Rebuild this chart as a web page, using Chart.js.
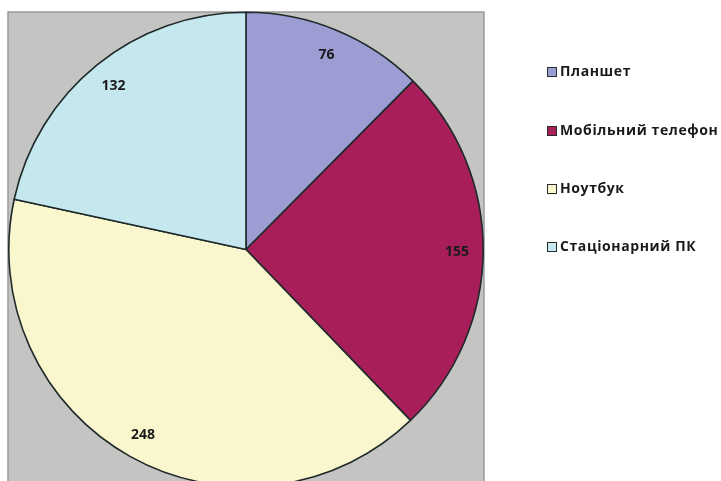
<!DOCTYPE html>
<html>
<head>
<meta charset="utf-8">
<script src="https://cdn.jsdelivr.net/npm/chart.js@4"></script>
<style>
html,body{margin:0;padding:0;background:#fff;overflow:hidden;width:721px;height:481px;}
canvas{display:block;}
</style>
</head>
<body>
<canvas id="c" width="721" height="490" style="width:721px;height:490px"></canvas>
<script>
const categories = ["Планшет", "Мобільний телефон", "Ноутбук", "Стаціонарний ПК"];
const values = [76, 155, 248, 132];
const colors = ["#9c9dd3", "#a71e5b", "#faf7cf", "#c5e7ee"];

const plotBg = {
  id: 'plotBg',
  beforeDraw(chart) {
    const ctx = chart.ctx;
    ctx.save();
    ctx.fillStyle = '#c4c4c2';
    ctx.fillRect(8, 12, 476, 480);
    ctx.strokeStyle = '#9a9a9a';
    ctx.lineWidth = 1.5;
    ctx.strokeRect(8, 12, 476, 480);
    ctx.restore();
  }
};

const sliceLabels = {
  id: 'sliceLabels',
  afterDatasetsDraw(chart) {
    const ctx = chart.ctx;
    const meta = chart.getDatasetMeta(0);
    ctx.save();
    ctx.font = 'bold 14px "Open Sans"';
    ctx.fillStyle = '#1a1a1a';
    ctx.textAlign = 'center';
    ctx.textBaseline = 'middle';
    meta.data.forEach((arc, i) => {
      const p = arc.getProps(['x','y','startAngle','endAngle','outerRadius'], true);
      const mid = (p.startAngle + p.endAngle) / 2;
      const r = p.outerRadius * 0.89;
      ctx.fillText(String(values[i]), p.x + Math.cos(mid) * r, p.y + Math.sin(mid) * r + 1);
    });
    ctx.restore();
  }
};

const sideLegend = {
  id: 'sideLegend',
  afterDraw(chart) {
    const ctx = chart.ctx;
    const ys = [72, 131, 189, 247];
    ctx.save();
    ctx.font = 'bold 14px "Open Sans"';
    try { ctx.letterSpacing = '0.6px'; } catch (e) {}
    ctx.textBaseline = 'middle';
    ctx.textAlign = 'left';
    categories.forEach((name, i) => {
      const y = ys[i];
      ctx.fillStyle = colors[i];
      ctx.fillRect(547.5, y - 4.5, 9, 9);
      ctx.strokeStyle = '#2a2a2a';
      ctx.lineWidth = 1;
      ctx.strokeRect(547.5, y - 4.5, 9, 9);
      ctx.fillStyle = '#1a1a1a';
      ctx.fillText(name, 560, y);
    });
    ctx.restore();
  }
};

new Chart(document.getElementById('c'), {
  type: 'pie',
  data: {
    labels: categories,
    datasets: [{
      data: values,
      backgroundColor: colors,
      borderColor: '#1e2a2a',
      borderWidth: 1.6
    }]
  },
  options: {
    responsive: false,
    animation: false,
    devicePixelRatio: 1,
    layout: { padding: { left: 8, top: 11, right: 237, bottom: 2 } },
    plugins: { legend: { display: false }, tooltip: { enabled: false } }
  },
  plugins: [plotBg, sliceLabels, sideLegend]
});
</script>
</body>
</html>
